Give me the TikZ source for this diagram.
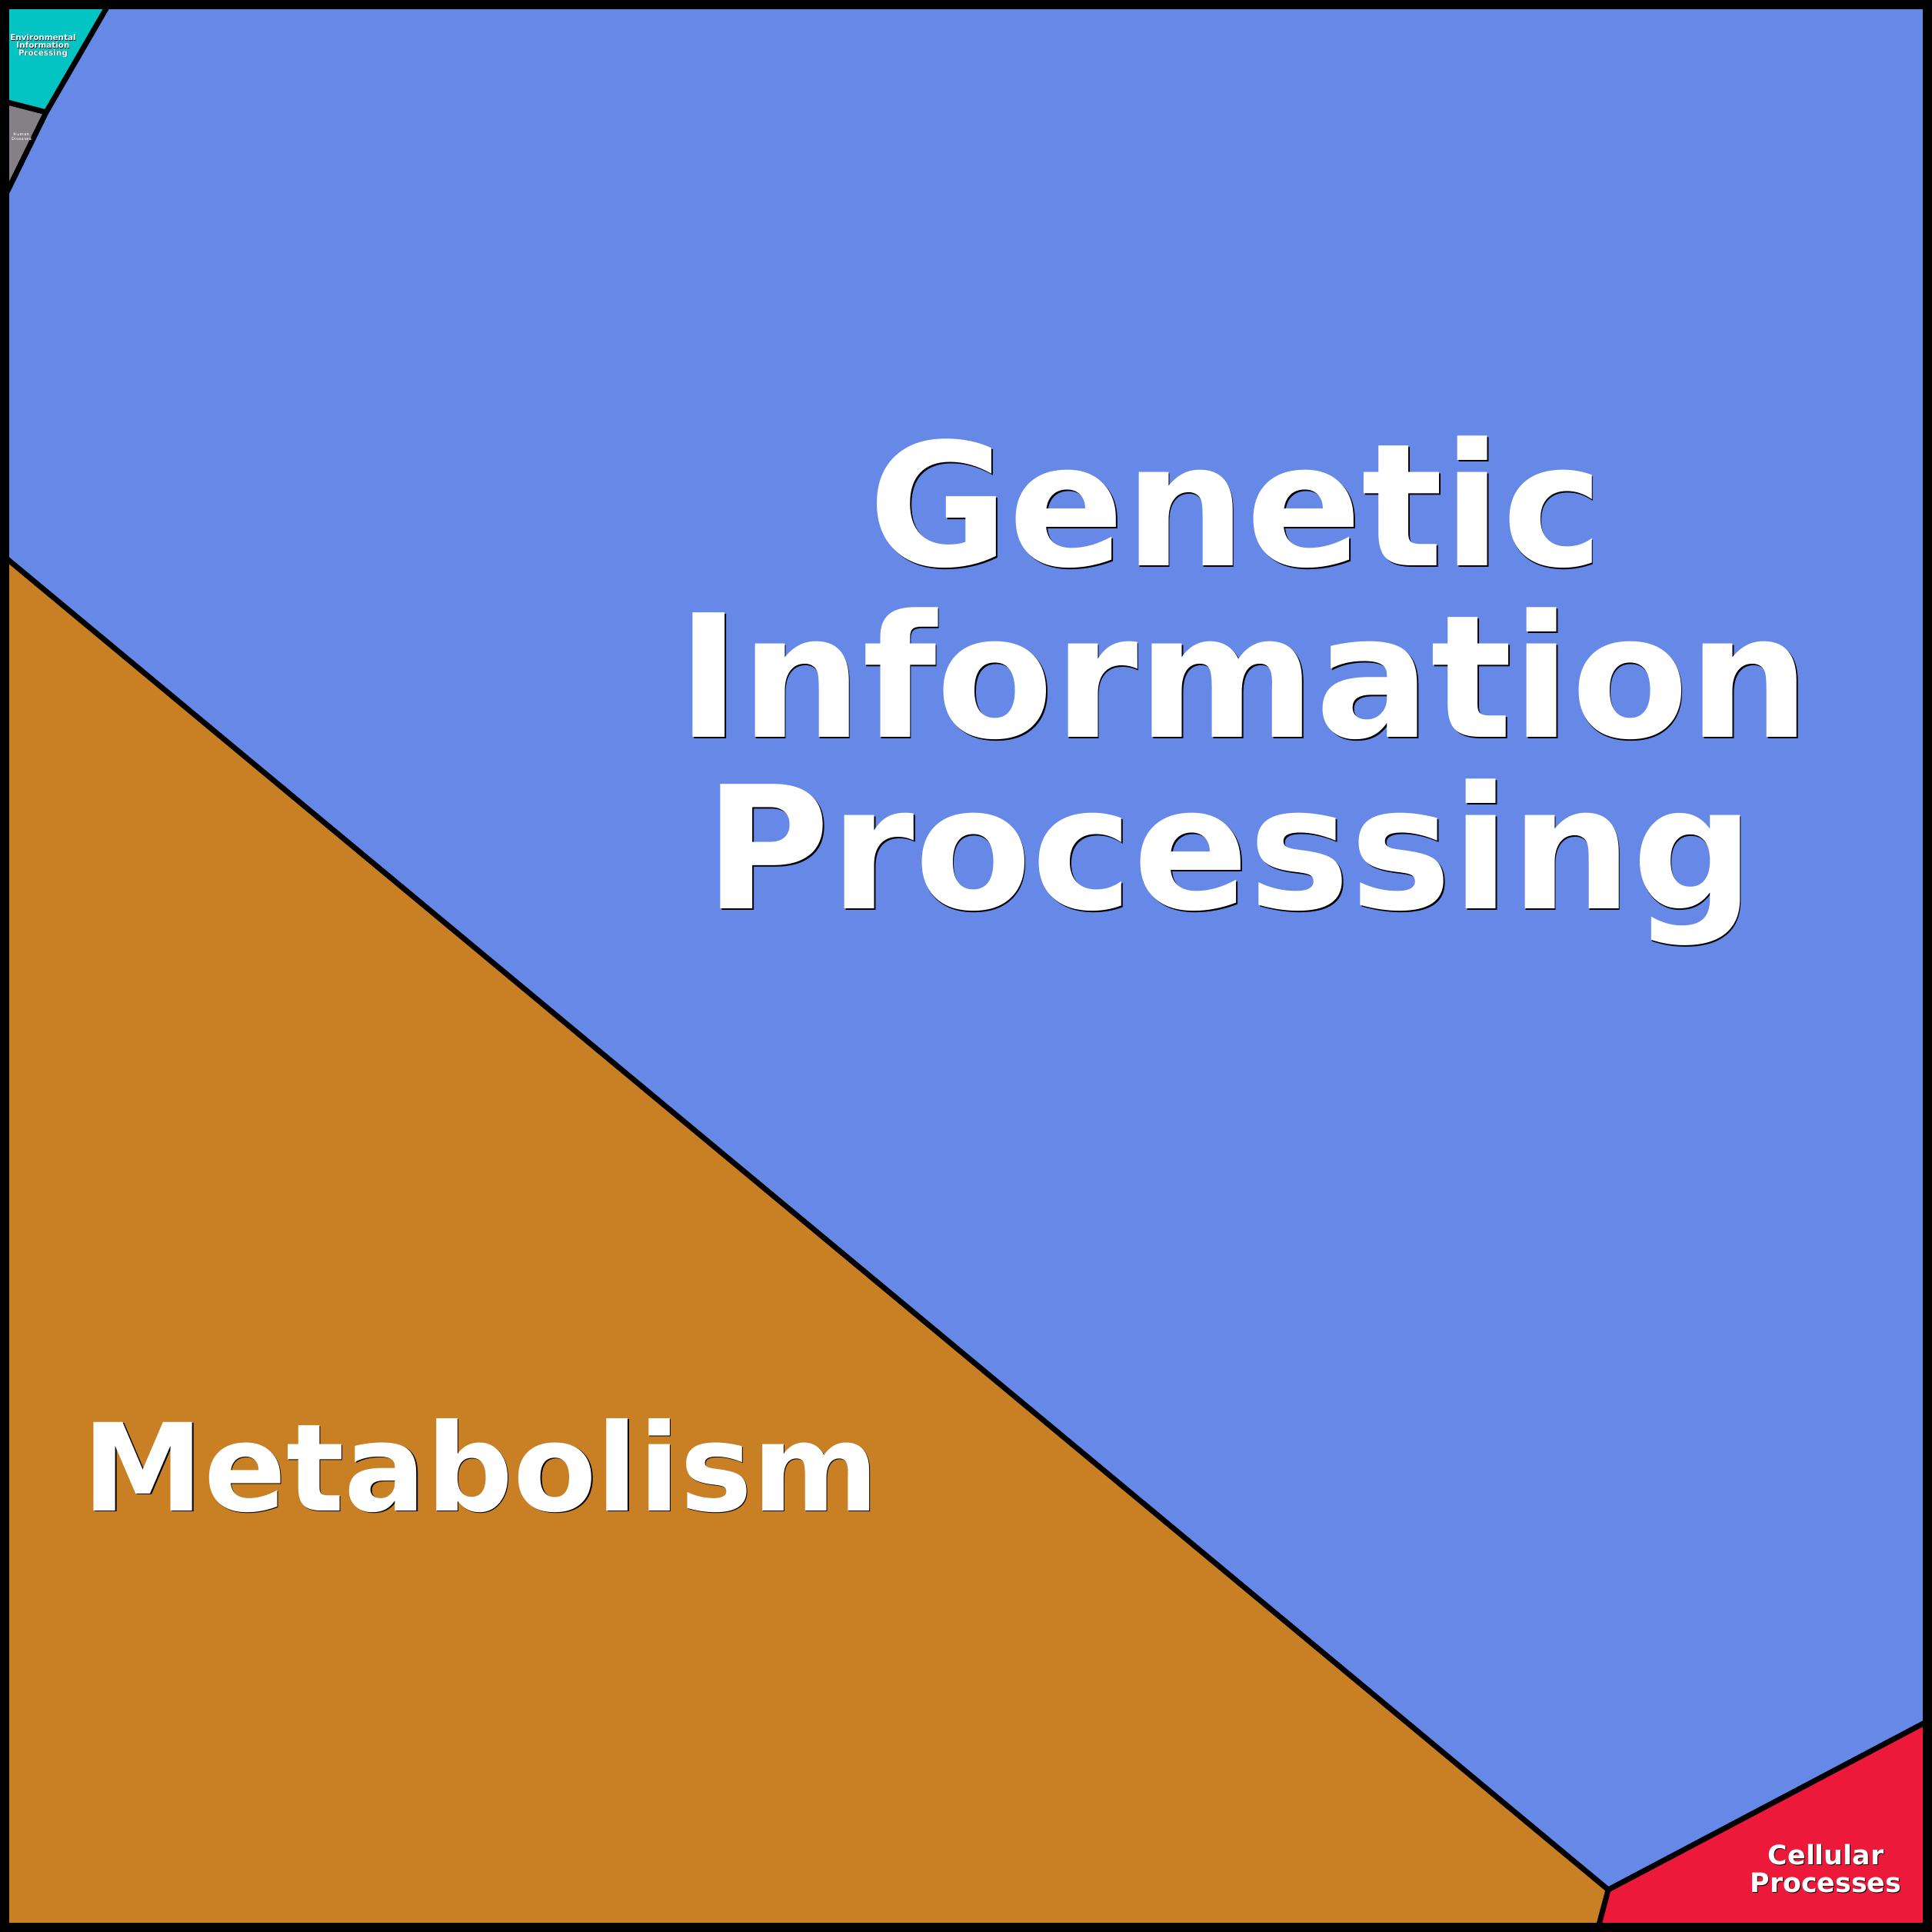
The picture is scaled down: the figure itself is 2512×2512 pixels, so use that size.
\documentclass[tikz,border=0pt]{standalone}
\usepackage{fontspec}
\setmainfont{DejaVu Sans}
\newcommand\shd[2]{\makebox[0pt][l]{\kern#1\raisebox{-#1}{\textcolor{black}{#2}}}#2}
\definecolor{gipblue}{RGB}{102,136,230}
\definecolor{metab}{RGB}{201,128,36}
\definecolor{cellred}{RGB}{236,25,58}
\definecolor{envteal}{RGB}{3,196,195}
\definecolor{humgray}{RGB}{133,128,133}
\tikzset{
  border/.style={draw=black,line width=1.75pt,line join=round},
  frame/.style={draw=black,line width=3pt},
  lbl/.style={text=white,font=\bfseries,align=center,inner sep=0pt},
}
\begin{document}
\begin{tikzpicture}[x=0.25pt,y=-0.25pt]
\useasboundingbox (0,0) rectangle (2512,2512);
% regions
\fill[gipblue] (6,6) rectangle (2506,2506);
\fill[envteal] (6,6) -- (141,6) -- (60,146) -- (6,132) -- cycle;
\fill[humgray] (6,132) -- (60,146) -- (6,256) -- cycle;
\fill[metab] (6,724) -- (2091,2457) -- (2078,2506) -- (6,2506) -- cycle;
\fill[cellred] (2091,2457) -- (2506,2238) -- (2506,2506) -- (2078,2506) -- cycle;
% boundaries
\coordinate (envtop) at (141,6);
\coordinate (j1) at (60,146);
\coordinate (envleft) at (6,132);
\coordinate (humleft) at (6,256);
\coordinate (metleft) at (6,724);
\coordinate (j2) at (2091,2457);
\coordinate (metbot) at (2078,2506);
\coordinate (cellright) at (2506,2238);
\draw[border] (envtop) -- (j1) -- (humleft);
\draw[border] (envleft) -- (j1);
\draw[border] (metleft) -- (j2) -- (metbot);
\draw[border] (j2) -- (cellright);
\draw[frame] (6,6) rectangle (2506,2506);
% labels
\node[lbl,font=\bfseries\fontsize{55.5pt}{55.75pt}\selectfont] (gip) at (1607,899)
  {\shd{0.45pt}{Genetic}\\\hspace*{5pt}\shd{0.45pt}{Information}\\\shd{0.45pt}{Processing}\hspace*{4pt}};
\node[lbl,font=\bfseries\fontsize{39.5pt}{40pt}\selectfont,anchor=base west] (met) at (107,1964)
  {\shd{0.4pt}{Metabolism}};
\node[lbl,font=\bfseries\fontsize{8.7pt}{9pt}\selectfont] (cell) at (2374,2430)
  {\shd{0.25pt}{Cellular}\\\shd{0.25pt}{Processes}};
\node[lbl,font=\bfseries\fontsize{2.6pt}{2.4pt}\selectfont] (env) at (56,60)
  {\shd{0.12pt}{Environmental}\\\shd{0.12pt}{Information}\\\shd{0.12pt}{Processing}};
\node[lbl,font=\bfseries\fontsize{1.3pt}{1.5pt}\selectfont] (hum) at (28,178)
  {\shd{0.06pt}{Human}\\\shd{0.06pt}{Diseases}};
\end{tikzpicture}
\end{document}
